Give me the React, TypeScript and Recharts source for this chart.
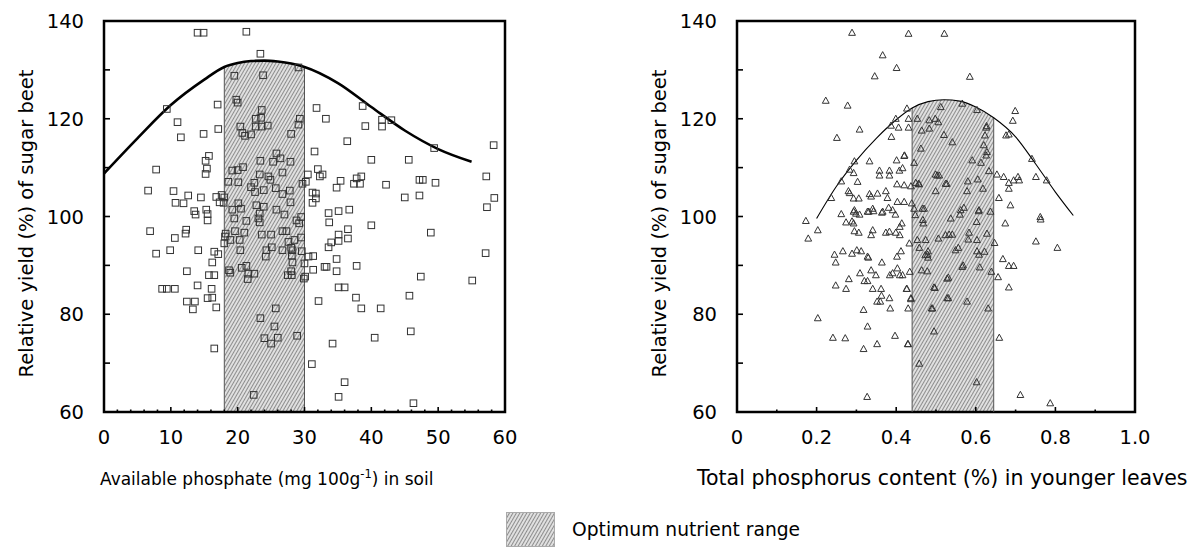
import React from 'react';
import { ComposedChart, Line, Area, Scatter, XAxis, YAxis, ReferenceArea, ReferenceLine, Label } from 'recharts';

const FONT = '"DejaVu Sans", "Open Sans", sans-serif';

// ---- shared y axis ----
const yieldTicks = [60, 70, 80, 90, 100, 110, 120, 130, 140];
const yieldLabels = [60, 80, 100, 120, 140];
const yieldTitle = 'Relative yield (%) of sugar beet';

// ---- left panel: available phosphate in soil ----
const soilTicks = [0, 2, 4, 6, 8, 10, 12, 14, 16, 18, 20, 22, 24, 26, 28, 30, 32, 34, 36, 38, 40, 42, 44, 46, 48, 50, 52, 54, 56, 58, 60];
const soilLabels = [0, 10, 20, 30, 40, 50, 60];
const soilOptimum = [18, 30];
const soilCurveX = [0, 5, 10, 15, 18, 20, 22, 24, 26, 28, 30, 35, 40, 45, 50, 55];
const soilCurveY = [108.8, 116, 122.8, 128, 130.6, 131.4, 131.8, 131.9, 131.7, 131.3, 130.6, 127.3, 122.4, 117.6, 113.8, 111.2];
const soilPoints = [
  [14.0, 137.6], [14.9, 137.6], [21.3, 137.8], [23.4, 133.3], [19.5, 128.8], [23.8, 128.9], [29.1, 130.5],
  [9.4, 122], [17.0, 122.9], [19.8, 123.9], [20.0, 123.3], [23.6, 121.8], [22.7, 120], [23.5, 120.2], [22.7, 118.4],
  [23.6, 118.4], [24.5, 118.6], [29.3, 120], [29.1, 118.8], [31.8, 122.2], [33.2, 120], [11.0, 119.3], [14.9, 116.9],
  [17.1, 117.9], [11.5, 116.2], [20.4, 118.4], [20.7, 117.1], [21.1, 116.5], [22.0, 116.8], [28.0, 116.9], [36.4, 115.4],
  [31.5, 113.3], [15.7, 112.4], [15.2, 111.4], [15.4, 109.8], [15.2, 108.7], [7.8, 109.6], [19.2, 109.4], [20.0, 109.5],
  [20.8, 110.1], [23.4, 111.4], [25.3, 111.2], [26.4, 111.9], [25.8, 112.9], [27.9, 111.2], [26.7, 109], [23.3, 108.6],
  [24.6, 108.2], [24.9, 107.5], [30.5, 108.6], [30.2, 107.1], [29.7, 106.7], [32.0, 109.7], [32.3, 108.2], [32.7, 108.6],
  [35.4, 107.3], [34.8, 105.9], [37.8, 107.8], [38.3, 106.7], [38.5, 108.2], [37.4, 106.7], [6.6, 105.3], [10.4, 105.2],
  [12.6, 104.3], [14.5, 103.9], [10.7, 102.8], [11.9, 102.7], [16.8, 104], [17.6, 104.4], [18.0, 103.9], [17.3, 102.9],
  [17.9, 102.8], [18.6, 107.1], [20.1, 107], [22.5, 106.9], [22.0, 106], [22.6, 105], [23.9, 105.4], [25.7, 105.8],
  [26.7, 104.6], [27.8, 105.3], [31.2, 104.9], [31.7, 104.7], [31.2, 102.8], [31.7, 103.7], [27.9, 102.9], [33.6, 100.7],
  [35.1, 101.1], [36.7, 101.4], [13.5, 101.1], [15.3, 101.4], [15.5, 100.5], [19.2, 101.4], [20.5, 101.6], [20.1, 102.7],
  [22.8, 102.3], [23.9, 102], [23.3, 100.6], [25.8, 101.4], [27.0, 100.4], [29.5, 99.9],
  [38.7, 122.6], [41.6, 119.8], [41.6, 118.4], [43.0, 119.7], [39.1, 118.5], [58.3, 114.6], [49.4, 114.0], [40.0, 111.6],
  [45.6, 111.6], [42.2, 106.5], [47.2, 107.5], [47.7, 107.5], [49.6, 106.9], [57.2, 108.2], [45.0, 103.9], [47.2, 104.3],
  [58.4, 103.8], [57.3, 101.9],
  [6.9, 97], [12.3, 97.3], [12.2, 96.5], [10.6, 95.6], [7.8, 92.4], [9.9, 93.1], [14.1, 93.1], [16.5, 92.8], [17.1, 92.3],
  [16.2, 90.6], [12.4, 88.8], [15.7, 88], [16.5, 88], [8.7, 85.2], [9.4, 85.2], [10.6, 85.2], [14.0, 85.9], [16.1, 85.2],
  [12.4, 82.6], [13.6, 82.6], [13.3, 81], [15.5, 83.3], [16.2, 83.4], [16.8, 81.4], [16.5, 73], [15.5, 99.2], [13.7, 100.4],
  [21.3, 99.1], [19.5, 99.6], [23.1, 99.6], [23.3, 98.8], [28.8, 99.2], [29.2, 98.6],
  [18.1, 95.9], [18.0, 94.5], [18.9, 95.2], [19.6, 97], [20.3, 95.2], [21.0, 96.7], [18.2, 96.5], [23.6, 96.3], [25.0, 96.3],
  [26.7, 97], [27.3, 97], [27.6, 94.8], [28.5, 95.2], [29.5, 95.7], [20.4, 93.1], [24.3, 93.1], [25.1, 93.7], [26.7, 93.1],
  [28.2, 93.1], [28.1, 92], [28.0, 93.6], [24.2, 91.8], [29.6, 92.9], [30.0, 90.4], [28.2, 90.6], [18.7, 89], [18.9, 88.5],
  [20.6, 89.5], [21.3, 89.9], [21.6, 88.3], [22.5, 88.3], [21.5, 87.2], [27.5, 88], [28.1, 88], [28.0, 88.8], [29.9, 87.3],
  [30.1, 87.7], [25.7, 81.2], [23.4, 79.2], [25.5, 77.5], [26.0, 75.2], [24.0, 75.1], [25.0, 74], [28.9, 75.6], [22.4, 63.5],
  [33.7, 98.8], [36.5, 97.4], [36.5, 95.5], [35.1, 96.3], [35.1, 95], [34.0, 94.7], [33.6, 93.7], [40.0, 98.2], [48.9, 96.7],
  [57.1, 92.5], [30.6, 91.8], [31.3, 91.9], [31.3, 89.1], [33.0, 89.7], [33.3, 89.7], [34.8, 91.3], [34.8, 88.8], [37.8, 89.9],
  [47.4, 87.7], [55.1, 86.9], [35.1, 85.5], [36.0, 85.5], [32.1, 82.7], [37.7, 83.4], [38.5, 81.2], [41.4, 81.2], [45.7, 83.8],
  [40.5, 75.2], [45.9, 76.5], [34.2, 74], [31.1, 69.8], [36.0, 66.1], [35.1, 63.1], [46.3, 61.8],
];

// ---- right panel: total P in younger leaves ----
const leafTicks = [0, 0.1, 0.2, 0.3, 0.4, 0.5, 0.6, 0.7, 0.8, 0.9, 1.0];
const leafLabels = [0, 0.2, 0.4, 0.6, 0.8, 1.0];
const leafOptimum = [0.44, 0.645];
const leafCurveX = [0.2, 0.25, 0.3, 0.35, 0.4, 0.44, 0.48, 0.52, 0.56, 0.6, 0.645, 0.7, 0.75, 0.8, 0.845];
const leafCurveY = [99.6, 106.2, 111.5, 116.0, 119.8, 122.2, 123.5, 123.9, 123.6, 122.4, 120.2, 116.3, 110.8, 105.0, 100.2];
const leafPoints = [
  [0.289, 137.6], [0.431, 137.4], [0.521, 137.4], [0.366, 133], [0.401, 130.4], [0.346, 128.7], [0.223, 123.7], [0.278, 122.7],
  [0.427, 122.1], [0.251, 116.1], [0.308, 117.8], [0.399, 120], [0.387, 118.6], [0.406, 118.2], [0.431, 120], [0.431, 118.2],
  [0.388, 116.3], [0.295, 111.3], [0.333, 111.3], [0.401, 111.5], [0.42, 112.4], [0.445, 111], [0.283, 109.6], [0.293, 108.9],
  [0.358, 109.4], [0.383, 109.4], [0.408, 109.4], [0.416, 109.9], [0.262, 107.2], [0.303, 107.1], [0.358, 108.4], [0.383, 108.4],
  [0.402, 106.6], [0.42, 106.4], [0.437, 106.2], [0.449, 106.9], [0.458, 106.6], [0.237, 103.8], [0.28, 105.2], [0.283, 104.8],
  [0.293, 103.7], [0.306, 103.7], [0.333, 104.6], [0.337, 104.1], [0.353, 104.7], [0.374, 105.2], [0.378, 103.8], [0.403, 103],
  [0.42, 103], [0.439, 102.7], [0.445, 101.6], [0.381, 101.8], [0.262, 100.5], [0.295, 101.3], [0.299, 100.6], [0.328, 101],
  [0.341, 101.6], [0.366, 101], [0.391, 101.3],
  [0.453, 120], [0.483, 119.7], [0.498, 120], [0.506, 119.3], [0.464, 117.6], [0.483, 118], [0.52, 116.7], [0.512, 122.4],
  [0.462, 113.9], [0.499, 108.6], [0.503, 108.4], [0.456, 106.7], [0.499, 105.2], [0.466, 101.6], [0.47, 101.6], [0.524, 106.7],
  [0.585, 128.6], [0.566, 123.1], [0.603, 121.8], [0.699, 121.6], [0.693, 119.6], [0.627, 118.5], [0.626, 118.2], [0.623, 116.6],
  [0.541, 115.2], [0.676, 116.6], [0.683, 116.8], [0.62, 114.6], [0.628, 113.2], [0.626, 112.5], [0.421, 112.5], [0.591, 111.5],
  [0.613, 111], [0.633, 109.3], [0.741, 111.8], [0.508, 108.4], [0.527, 106.7], [0.58, 107.2], [0.605, 107.6], [0.618, 105.7],
  [0.578, 105.2], [0.653, 108.6], [0.67, 108.1], [0.683, 106.9], [0.683, 105.7], [0.695, 107.4], [0.706, 108.1], [0.709, 107.4],
  [0.751, 108.1], [0.778, 107.4], [0.658, 103.8], [0.687, 102.3], [0.562, 101.3], [0.57, 101.8], [0.608, 101.3], [0.637, 101],
  [0.762, 99.9], [0.173, 99.1], [0.203, 97.2], [0.179, 95.5], [0.293, 101], [0.308, 100.4], [0.331, 101], [0.343, 101.1],
  [0.364, 100.8], [0.398, 100.4], [0.274, 98.8], [0.289, 99], [0.293, 98.6], [0.414, 98.6], [0.409, 97.9], [0.295, 97],
  [0.306, 96.7], [0.341, 97.2], [0.337, 96.2], [0.374, 96.7], [0.383, 96.9], [0.399, 96.7], [0.409, 96.2], [0.433, 94.5],
  [0.453, 95.2], [0.474, 95.2], [0.458, 93.6], [0.506, 95.5], [0.524, 96.2], [0.245, 92.2], [0.266, 92.9], [0.289, 92.4],
  [0.301, 93.1], [0.312, 92.9], [0.248, 90.6], [0.328, 91.8], [0.33, 91.6], [0.364, 90.6], [0.402, 91.8], [0.412, 92.9],
  [0.48, 92.9], [0.48, 91.6], [0.309, 88.4], [0.32, 86.8], [0.328, 86.8], [0.281, 87.2], [0.248, 85.9], [0.274, 85.2],
  [0.337, 89], [0.349, 88], [0.384, 88], [0.391, 88.4], [0.403, 89.4], [0.409, 88], [0.416, 88], [0.434, 88.7], [0.464, 89],
  [0.478, 88.8], [0.427, 85.2], [0.437, 83.3], [0.341, 85.2], [0.362, 85.2], [0.363, 83.8], [0.352, 82.6], [0.36, 82.6],
  [0.383, 83.3], [0.385, 81.2], [0.43, 81.2], [0.318, 80.9], [0.328, 77.5], [0.397, 75.6], [0.352, 73.9], [0.318, 72.9],
  [0.241, 75.2], [0.272, 75.1], [0.429, 73.9], [0.203, 79.2], [0.327, 63.1], [0.458, 69.9], [0.495, 85.5], [0.491, 81.2],
  [0.495, 76.5], [0.528, 87.3], [0.528, 83.3], [0.473, 92.1], [0.448, 100.3], [0.467, 99.3], [0.468, 98.6], [0.537, 99.6],
  [0.56, 100.4], [0.583, 96.7], [0.607, 101.1], [0.602, 98.9], [0.628, 96.5], [0.674, 98.6], [0.763, 99.4], [0.533, 96.3],
  [0.541, 96.3], [0.581, 95.3], [0.603, 95.2], [0.647, 94.6], [0.751, 94.9], [0.805, 93.6], [0.479, 92.2], [0.549, 93.1],
  [0.556, 93.6], [0.603, 92.9], [0.622, 92.8], [0.608, 92.2], [0.668, 91.3], [0.683, 89.9], [0.695, 89.9], [0.566, 89.7],
  [0.568, 90], [0.61, 89.6], [0.639, 88.7], [0.656, 87.6], [0.531, 87.5], [0.683, 85.5], [0.426, 85.2], [0.437, 83.1],
  [0.497, 85.4], [0.531, 83.3], [0.578, 82.6], [0.489, 81.2], [0.631, 81.2], [0.43, 73.9], [0.602, 66.1], [0.659, 75.2],
  [0.712, 63.5], [0.787, 61.8],
];

const LEGEND_TEXT = 'Optimum nutrient range';

// curve rows, with the band only filled inside the optimum range
function curveRows(xs: number[], ys: number[], range: number[]) {
  return xs.map((x, i) => ({
    x,
    curve: ys[i],
    band: x >= range[0] && x <= range[1] ? ys[i] : null,
  }));
}

const toPoints = (pts: number[][]) => pts.map(([x, y]) => ({ x, y }));

const Hatch = ({ id }: { id: string }) => (
  <pattern id={id} width="3" height="3" patternUnits="userSpaceOnUse" patternTransform="rotate(30)">
    <rect width="3" height="3" fill="#e0e0e0" />
    <line x1="0.5" y1="0" x2="0.5" y2="3" stroke="#777" strokeWidth="0.8" />
  </pattern>
);

const xTick = (labels: number[], fmt: (v: number) => string) => (props: any) => {
  const { x, y, payload } = props;
  const major = labels.includes(payload.value);
  return (
    <g>
      <line x1={x} x2={x} y1={y} y2={y - (major ? 5 : 2.5)} stroke="#000" strokeWidth={1.6} />
      {major && (
        <text x={x} y={y + 32} textAnchor="middle" fontSize={19.5} fontFamily={FONT} fill="#000">
          {fmt(payload.value)}
        </text>
      )}
    </g>
  );
};

const yTick = (props: any) => {
  const { x, y, payload } = props;
  const show = yieldLabels.includes(payload.value);
  return (
    <g>
      <line x1={x} x2={x + 6} y1={y} y2={y} stroke="#000" strokeWidth={1.6} />
      {show && (
        <text x={x - 20} y={y + 7} textAnchor="end" fontSize={19.5} fontFamily={FONT} fill="#000">
          {payload.value}
        </text>
      )}
    </g>
  );
};

const square = (props: any) => (
  <rect x={props.cx - 3.3} y={props.cy - 3.3} width={6.6} height={6.6} fill="none" stroke="#333" strokeWidth={1} />
);

const triangle = (props: any) => {
  const { cx, cy } = props;
  return <path d={`M${cx},${cy - 3.6} L${cx + 3.4},${cy + 2.6} L${cx - 3.4},${cy + 2.6} Z`} fill="none" stroke="#333" strokeWidth={1} />;
};

const yTitle = (p: any) => {
  const vb = p.viewBox || { x: 0, y: 21, width: 0, height: 391 };
  const bx = vb.x + vb.width - 71;
  const cy = vb.y + vb.height / 2 + 7;
  return (
    <text x={bx} y={cy} transform={`rotate(-90, ${bx}, ${cy})`} textAnchor="middle" fontSize={19.5} fontFamily={FONT} fill="#000">
      {yieldTitle}
    </text>
  );
};

interface PanelProps {
  rows: any[];
  points: { x: number; y: number }[];
  ticks: number[];
  labels: number[];
  fmt: (v: number) => string;
  range: number[];
  hatchId: string;
  shape: any;
  curveWidth: number;
  width: number;
  marginLeft: number;
  marginRight: number;
  xTitle: (p: any) => any;
}

function Panel(p: PanelProps) {
  const lo = p.ticks[0];
  const hi = p.ticks[p.ticks.length - 1];
  const edge = (v: number) => p.rows.find((r) => r.x === v).curve;
  return (
    <ComposedChart
      width={p.width}
      height={500}
      data={p.rows}
      margin={{ top: 21, right: p.marginRight, bottom: 28, left: p.marginLeft }}
      style={{ fontFamily: FONT }}
    >
      <defs>
        <Hatch id={p.hatchId} />
      </defs>
      <XAxis
        dataKey="x"
        type="number"
        domain={[lo, hi]}
        ticks={p.ticks}
        interval={0}
        allowDataOverflow
        axisLine={false}
        tickLine={false}
        tickSize={0}
        tickMargin={0}
        height={60}
        tick={xTick(p.labels, p.fmt)}
      >
        <Label content={p.xTitle} />
      </XAxis>
      <YAxis
        type="number"
        domain={[60, 140]}
        ticks={yieldTicks}
        interval={0}
        allowDataOverflow
        axisLine={false}
        tickLine={false}
        tickSize={0}
        tickMargin={0}
        width={60}
        tick={yTick}
      >
        <Label content={yTitle} />
      </YAxis>
      <Area
        dataKey="band"
        type="monotone"
        baseValue={60}
        stroke="none"
        fill={`url(#${p.hatchId})`}
        fillOpacity={1}
        dot={false}
        activeDot={false}
        isAnimationActive={false}
      />
      <ReferenceLine segment={[{ x: p.range[0], y: 60 }, { x: p.range[0], y: edge(p.range[0]) }]} stroke="#555" strokeWidth={1} />
      <ReferenceLine segment={[{ x: p.range[1], y: 60 }, { x: p.range[1], y: edge(p.range[1]) }]} stroke="#555" strokeWidth={1} />
      <Line
        dataKey="curve"
        type="monotone"
        stroke="#000"
        strokeWidth={p.curveWidth}
        dot={false}
        activeDot={false}
        isAnimationActive={false}
      />
      <Scatter data={p.points} dataKey="y" shape={p.shape} isAnimationActive={false} />
      <ReferenceArea x1={lo} x2={hi} y1={60} y2={140} fill="none" stroke="#000" strokeWidth={2.5} ifOverflow="visible" />
    </ComposedChart>
  );
}

const soilTitle = (p: any) => {
  const vb = p.viewBox || { x: 104, y: 412 };
  return (
    <text x={vb.x - 4} y={vb.y + 73} fontSize={17} fontFamily={FONT} fill="#000">
      Available phosphate (mg 100g
      <tspan fontSize={11.5} dy={-7}>-1</tspan>
      <tspan dy={7}>) in soil</tspan>
    </text>
  );
};

const leafTitle = (p: any) => {
  const vb = p.viewBox || { x: 737, y: 412 };
  return (
    <text x={vb.x - 40} y={vb.y + 73} fontSize={20.5} fontFamily={FONT} fill="#000">
      Total phosphorus content (%) in younger leaves
    </text>
  );
};

export default function App() {
  return (
    <div style={{ position: 'absolute', left: 0, top: 0, width: 1191, height: 547, background: '#fff', overflow: 'hidden', fontFamily: FONT }}>
      <div style={{ position: 'absolute', left: 0, top: 0 }}>
        <Panel
          rows={curveRows(soilCurveX, soilCurveY, soilOptimum)}
          points={toPoints(soilPoints)}
          ticks={soilTicks}
          labels={soilLabels}
          fmt={(v) => String(v)}
          range={soilOptimum}
          hatchId="hatchSoil"
          shape={square}
          curveWidth={2.6}
          width={545}
          marginLeft={44}
          marginRight={40}
          xTitle={soilTitle}
        />
      </div>
      <div style={{ position: 'absolute', left: 600, top: 0 }}>
        <Panel
          rows={curveRows(leafCurveX, leafCurveY, leafOptimum)}
          points={toPoints(leafPoints)}
          ticks={leafTicks}
          labels={leafLabels}
          fmt={(v) => (v === 0 ? '0' : v.toFixed(1))}
          range={leafOptimum}
          hatchId="hatchLeaf"
          shape={triangle}
          curveWidth={1.1}
          width={591}
          marginLeft={77}
          marginRight={56}
          xTitle={leafTitle}
        />
      </div>
      <div style={{ position: 'absolute', left: 506, top: 512, display: 'flex', alignItems: 'center' }}>
        <svg width={50} height={35}>
          <defs>
            <Hatch id="hatchLegend" />
          </defs>
          <rect x={0.5} y={0.5} width={48} height={34} fill="url(#hatchLegend)" stroke="#aaa" strokeWidth={1} />
        </svg>
        <span style={{ marginLeft: 16, fontSize: 18.7, color: '#000', whiteSpace: 'nowrap' }}>{LEGEND_TEXT}</span>
      </div>
    </div>
  );
}
